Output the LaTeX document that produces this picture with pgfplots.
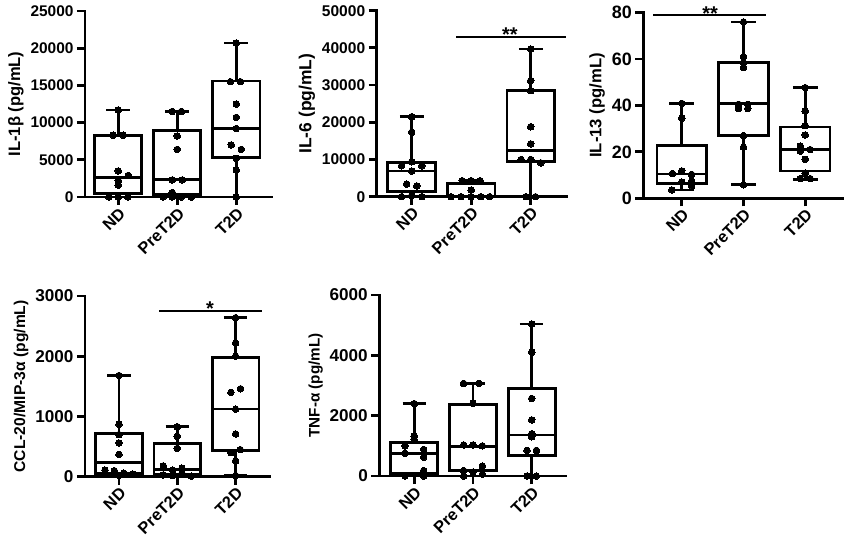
\documentclass[border=0pt]{standalone}
\usepackage{fontspec}
\setmainfont{Liberation Sans}
\usepackage{pgfplots}
\pgfplotsset{compat=1.18}
\usepgfplotslibrary{statistics}

\newcommand{\fsz}[1]{\bfseries\fontsize{#1}{#1}\selectfont}
\pgfplotsset{
  gp/.style={
    scale only axis, clip=false,
    axis x line*=bottom, axis y line*=left,
    axis line style={-, line width=2.8bp, black, line cap=rect},
    tick style={line width=2.8bp, black},
    major tick length=8bp, tick align=outside,
    xtick={0,1,2}, xticklabels={ND,PreT2D,T2D},
    ymin=0,
    boxplot/draw direction=y,
    xticklabel style={rotate=45, anchor=north east, font=\fsz{16.5}, inner sep=1bp},
    /pgf/number format/assume math mode=true,
    /pgf/number format/1000 sep={},
    scaled y ticks=false,
  },
  bx/.style={black, line width=2.8bp, solid, fill=none},
  pdots/.style={only marks, mark=*, mark size=3.3bp, black, mark options={line width=0pt}},
  sig/.style={black, line width=2.2bp, no marks},
}

\begin{document}
\begin{tikzpicture}
\useasboundingbox (0,0) rectangle (845bp,547bp);

% ---------- IL-1beta (values in thousands of pg/mL) ----------
\begin{axis}[gp, at={(85bp,350bp)}, anchor=south west, width=187bp, height=186bp,
  xmin=-0.564, xmax=2.605, ymax=25, ytick={0,5,...,25},
  yticklabels={0,5000,10000,15000,20000,25000},
  yticklabel style={font=\fsz{15.5}}, ylabel style={font=\fsz{16.6}},
  ylabel={IL-1β (pg/mL)}]
\addplot[bx, boxplot prepared={draw position=0, lower whisker=0, lower quartile=0.5, median=2.6, upper quartile=8.3, upper whisker=11.7, box extend=0.8, whisker extend=0.4}] coordinates {};
\addplot[bx, boxplot prepared={draw position=1, lower whisker=0, lower quartile=0.35, median=2.3, upper quartile=8.9, upper whisker=11.5, box extend=0.8, whisker extend=0.4}] coordinates {};
\addplot[bx, boxplot prepared={draw position=2, lower whisker=0, lower quartile=5.3, median=9.2, upper quartile=15.6, upper whisker=20.7, box extend=0.8, whisker extend=0.4}] coordinates {};
\addplot[pdots] coordinates {(0,11.7) (-0.085,8.3) (0.085,8.3) (0,3.5) (0.17,2.9) (0,2.2) (0,1.6) (-0.16,0) (0,0) (0.16,0)};
\addplot[pdots] coordinates {(0.915,11.5) (1.07,11.5) (1,8.2) (1,6.4) (0.915,2.3) (1.085,2.3) (0.915,0.6) (0.76,0) (0.915,0) (1.07,0) (1.24,0)};
\addplot[pdots] coordinates {(2,20.7) (1.9,15.5) (2.07,15.5) (2,12.5) (2,10.7) (2,9.2) (1.915,7.0) (2.085,6.4) (2,5.2) (2,3.6) (2,0)};
\end{axis}

% ---------- IL-6 (values in thousands of pg/mL) ----------
\begin{axis}[gp, at={(376.7bp,350.3bp)}, anchor=south west, width=190bp, height=186bp,
  xmin=-0.588, xmax=2.605, ymax=50, ytick={0,10,...,50},
  yticklabels={0,10000,20000,30000,40000,50000},
  yticklabel style={font=\fsz{15.6}}, ylabel style={font=\fsz{17.5}},
  ylabel={IL-6 (pg/mL)}]
\addplot[bx, boxplot prepared={draw position=0, lower whisker=0, lower quartile=1.4, median=6.9, upper quartile=9.3, upper whisker=21.5, box extend=0.8, whisker extend=0.4}] coordinates {};
\addplot[bx, boxplot prepared={draw position=1, lower whisker=0, lower quartile=0, median=0, upper quartile=3.6, upper whisker=4.3, box extend=0.8, whisker extend=0.4}] coordinates {};
\addplot[bx, boxplot prepared={draw position=2, lower whisker=0, lower quartile=9.4, median=12.4, upper quartile=28.5, upper whisker=39.7, box extend=0.8, whisker extend=0.4}] coordinates {};
\addplot[pdots] coordinates {(0,21.5) (0,17.3) (0,9.4) (-0.17,8.3) (0.17,8.3) (0,6.9) (-0.085,3.4) (0.085,2.9) (-0.17,0) (0,0.3) (0.17,0)};
\addplot[pdots] coordinates {(0.85,4.3) (1,4.3) (1.15,4.3) (1,1.8) (0.66,0) (0.83,0) (1,0) (1.16,0) (1.31,0)};
\addplot[pdots] coordinates {(2,39.7) (2,31.2) (2,28.5) (2,18.8) (2,14.2) (1.84,10.0) (2,10.0) (2.17,9.1) (1.92,0) (2.08,0)};
\addplot[sig] coordinates {(0.745,43) (2.6,43)};
\node[font=\fsz{20}, anchor=base] at (axis cs:1.65,43) [yshift=-5bp] {**};
\end{axis}

% ---------- IL-13 ----------
\begin{axis}[gp, at={(643.3bp,348.7bp)}, anchor=south west, width=199bp, height=185.6bp,
  xmin=-0.622, xmax=2.60, ymax=80, ytick={0,20,...,80},
  yticklabel style={font=\fsz{18}}, ylabel style={font=\fsz{16.7}},
  ylabel={IL-13 (pg/mL)}]
\addplot[bx, boxplot prepared={draw position=0, lower whisker=3.6, lower quartile=6.5, median=10.5, upper quartile=22.7, upper whisker=40.9, box extend=0.8, whisker extend=0.4}] coordinates {};
\addplot[bx, boxplot prepared={draw position=1, lower whisker=5.8, lower quartile=27, median=41, upper quartile=58.5, upper whisker=76, box extend=0.8, whisker extend=0.4}] coordinates {};
\addplot[bx, boxplot prepared={draw position=2, lower whisker=8.2, lower quartile=11.8, median=21.1, upper quartile=30.7, upper whisker=47.7, box extend=0.8, whisker extend=0.4}] coordinates {};
\addplot[pdots] coordinates {(0,40.9) (0,34.5) (0,11.8) (-0.15,10.7) (0.16,10.3) (0.16,7.4) (0,7.0) (0.16,5.3) (-0.16,3.6)};
\addplot[pdots] coordinates {(1,76) (1,61) (1,58.5) (1,56.3) (0.92,40.5) (1.07,40.5) (0.92,38.7) (1.07,38.7) (1,27) (1,22) (1,5.8)};
\addplot[pdots] coordinates {(2,47.7) (2,37.6) (2,31.3) (2,27.3) (1.92,22.5) (2.08,21) (1.92,20.3) (2,16.8) (2,10.8) (1.92,8.5) (2.08,8.5)};
\addplot[sig] coordinates {(-0.46,79) (1.37,79)};
\node[font=\fsz{20}, anchor=base] at (axis cs:0.46,79) [yshift=-5bp] {**};
\end{axis}

% ---------- CCL-20 (values in thousands of pg/mL) ----------
\begin{axis}[gp, at={(85bp,70.3bp)}, anchor=south west, width=185bp, height=180.7bp,
  xmin=-0.583, xmax=2.59, ymax=3, ytick={0,1,2,3},
  yticklabels={0,1000,2000,3000},
  yticklabel style={font=\fsz{17.2}}, ylabel style={font=\fsz{15.7}},
  ylabel={CCL-20/MIP-3α (pg/mL)}]
\addplot[bx, boxplot prepared={draw position=0, lower whisker=0, lower quartile=0.055, median=0.24, upper quartile=0.72, upper whisker=1.68, box extend=0.8, whisker extend=0.4}] coordinates {};
\addplot[bx, boxplot prepared={draw position=1, lower whisker=0.01, lower quartile=0.045, median=0.125, upper quartile=0.555, upper whisker=0.83, box extend=0.8, whisker extend=0.4}] coordinates {};
\addplot[bx, boxplot prepared={draw position=2, lower whisker=0.02, lower quartile=0.43, median=1.125, upper quartile=1.98, upper whisker=2.64, box extend=0.8, whisker extend=0.4}] coordinates {};
\addplot[pdots] coordinates {(0,1.68) (0,0.87) (0,0.70) (0,0.56) (0,0.37) (-0.24,0.11) (-0.08,0.10) (0.08,0.06) (0.24,0.04) (0,0.02)};
\addplot[pdots] coordinates {(1,0.83) (1,0.67) (1,0.47) (0.76,0.18) (1.08,0.14) (0.92,0.11) (0.76,0.03) (0.92,0.02) (1.08,0.06) (1.24,0.01)};
\addplot[pdots] coordinates {(2,2.64) (2,2.22) (2,2.00) (2.085,1.46) (1.92,1.40) (2,1.12) (2,0.71) (2.08,0.45) (1.92,0.40) (2,0.26) (2,0.02)};
\addplot[sig] coordinates {(0.69,2.752) (2.46,2.752)};
\node[font=\fsz{20}, anchor=base] at (axis cs:1.56,2.752) [yshift=-5bp] {*};
\end{axis}

% ---------- TNF-alpha (values in thousands of pg/mL) ----------
\begin{axis}[gp, at={(379.3bp,71bp)}, anchor=south west, width=186.7bp, height=181bp,
  xmin=-0.596, xmax=2.584, ymax=6, ytick={0,2,4,6},
  yticklabels={0,2000,4000,6000},
  yticklabel style={font=\fsz{17.2}}, ylabel style={font=\fsz{15.3}},
  ylabel={TNF-α (pg/mL)}]
\addplot[bx, boxplot prepared={draw position=0, lower whisker=0, lower quartile=0.09, median=0.75, upper quartile=1.12, upper whisker=2.40, box extend=0.8, whisker extend=0.4}] coordinates {};
\addplot[bx, boxplot prepared={draw position=1, lower whisker=0, lower quartile=0.18, median=0.97, upper quartile=2.38, upper whisker=3.07, box extend=0.8, whisker extend=0.4}] coordinates {};
\addplot[bx, boxplot prepared={draw position=2, lower whisker=0, lower quartile=0.67, median=1.36, upper quartile=2.91, upper whisker=5.04, box extend=0.8, whisker extend=0.4}] coordinates {};
\addplot[pdots] coordinates {(0,2.40) (0,1.32) (0,1.20) (-0.16,1.00) (0.16,0.88) (-0.16,0.75) (0.16,0.62) (0.16,0.18) (0.16,0.10) (-0.16,0) (0.16,0)};
\addplot[pdots] coordinates {(0.84,3.07) (1.1,3.07) (1,2.41) (0.84,1.03) (1,1.03) (1.16,1.00) (1.16,0.33) (0.84,0.18) (1,0.13) (1.16,0.06) (0.84,0)};
\addplot[pdots] coordinates {(2,5.04) (2,4.10) (2,2.57) (2,1.86) (2,1.40) (2,1.30) (1.92,0.85) (2.08,0.85) (1.92,0) (2.08,0)};
\end{axis}
\end{tikzpicture}
\end{document}
